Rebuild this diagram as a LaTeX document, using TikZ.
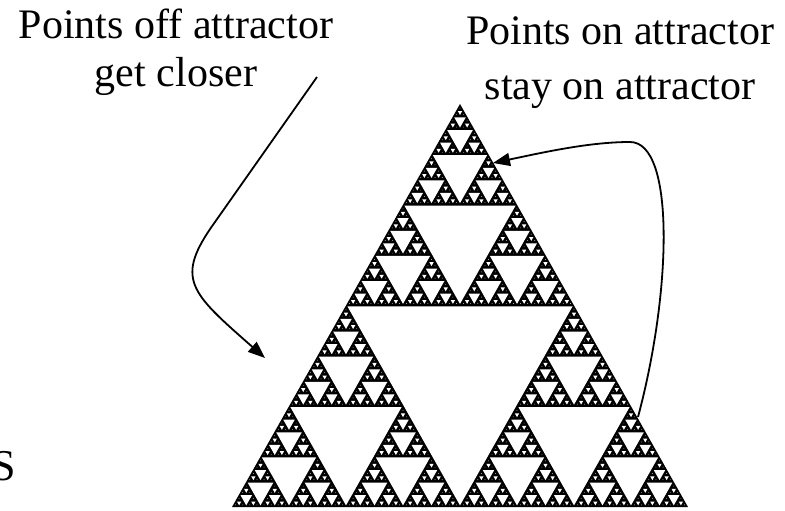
\documentclass[tikz,border=0pt]{standalone}
\usepackage{fontspec}
\setmainfont{Liberation Serif}
\usetikzlibrary{arrows.meta}
% Sierpinski holes: depth, x of bottom-left, y of bottom, width, height (upward)
\newcommand\sierpholes[5]{%
  \ifnum#1>0
    \begingroup
    \pgfmathsetmacro\shw{#4/2}%
    \pgfmathsetmacro\shh{#5/2}%
    \pgfmathsetmacro\sxa{#2+#4/2}%
    \pgfmathsetmacro\sxb{#2+#4/4}%
    \pgfmathsetmacro\syb{#3+#5/2}%
    \pgfmathsetmacro\sf{max(0,1-2.8/\shw)}%
    \pgfmathsetmacro\scy{#3+2*\shh/3}%
    \pgfmathsetmacro\sdx{\sf*\shw/2}%
    \pgfmathsetmacro\sdy{\sf*\shh/3}%
    \pgfmathtruncatemacro\sd{#1-1}%
    \fill[white] (\sxa-\sdx,\scy+\sdy) -- (\sxa+\sdx,\scy+\sdy) -- (\sxa,\scy-2*\sdy) -- cycle;
    \edef\snext{\noexpand\sierpholes{\sd}{#2}{#3}{\shw}{\shh}%
      \noexpand\sierpholes{\sd}{\sxa}{#3}{\shw}{\shh}%
      \noexpand\sierpholes{\sd}{\sxb}{\syb}{\shw}{\shh}}%
    \snext
    \endgroup
  \fi}
\begin{document}
\begin{tikzpicture}[x=1pt,y=1pt,
  lbl/.style={align=center, inner sep=0pt},
  conn/.style={line width=1.8pt, -{Triangle[length=17pt,width=13pt]}}]
\useasboundingbox (0,0) rectangle (785,-511);
% attractor
\fill (232,-507) -- (688,-507) -- (460,-104) -- cycle;
\sierpholes{7}{232}{-507}{456}{403}
% labels
\node[lbl, anchor=north, font=\fontsize{42}{48}\selectfont] (offtxt) at (176,-8.3)
  {Points off attractor\\get closer};
\node[lbl, anchor=north, font=\fontsize{42}{55}\selectfont] (ontxt) at (620,-16)
  {Points on attractor\\stay on attractor};
\node[inner sep=0pt, anchor=base west, font=\fontsize{44}{50}\selectfont] (s) at (-9,-480) {S};
% connector end points
\coordinate (offstart) at (317,-77);
\coordinate (offbend) at (215,-222);
\coordinate (offtip) at (265,-358);
\coordinate (onstart) at (638,-417);
\coordinate (ontop) at (630,-142);
\coordinate (ontip) at (493,-163);
% arrows
\draw[conn] (offstart) -- (offbend) .. controls (174,-279) and (190,-292) .. (offtip);
\draw[conn] (onstart) .. controls (672,-290) and (675,-142) .. (ontop)
  .. controls (590,-142) and (545,-152) .. (ontip);
\end{tikzpicture}
\end{document}
